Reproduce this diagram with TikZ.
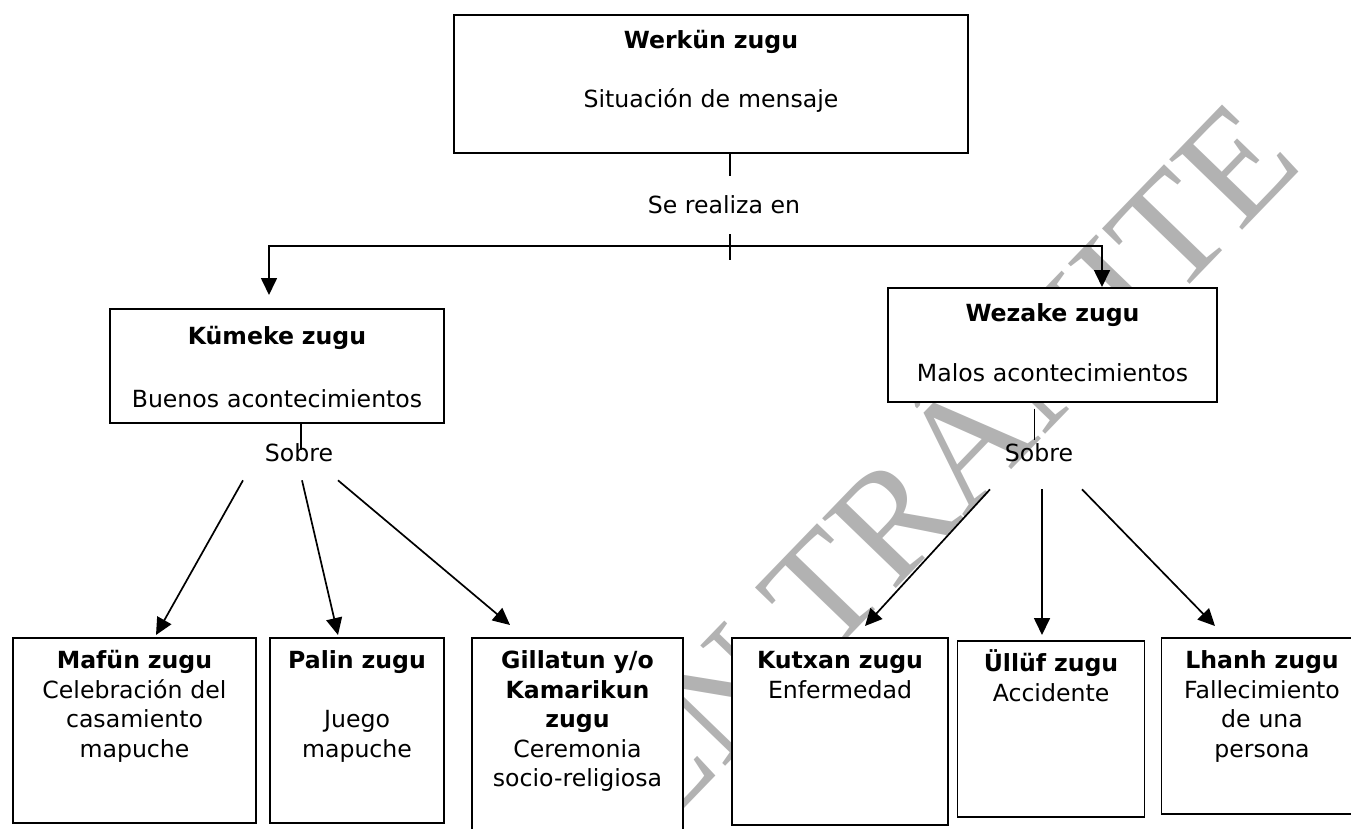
\documentclass[tikz,border=0pt]{standalone}
\usepackage{fontspec}
\setmainfont{DejaVu Sans}
\newfontfamily\marcafont{Liberation Serif}
\usetikzlibrary{arrows.meta}

\tikzset{
    caja/.style={draw, fill=white, line width=1.7pt, anchor=north,
                 align=center, inner sep=0pt},
    flecha/.style={line width=1.7pt, -{Triangle[length=17pt,width=16pt]}},
    linea/.style={line width=1.5pt},
    rotulo/.style={inner xsep=0pt, inner ysep=20pt},
}

\begin{document}
\begin{tikzpicture}[x=1pt, y=-1pt, font=\fontsize{23.6pt}{29.5pt}\selectfont]
    %
    % page frame
    \useasboundingbox (0,0) rectangle (1351,829);
    %
    % watermark
    \node[rotate=46, text=black!30,
          font=\marcafont\fontsize{155pt}{155pt}\selectfont] (marca) at (933,455) {EN TRÁMITE};
    %
    % upper boxes
    \node[caja, text width=514pt, text height=34pt, text depth=104pt] (werkun) at (711,14)
        {\textbf{Werkün zugu}\\[29.5pt]Situación de mensaje};
    \node[caja, text width=334pt, text height=36pt, text depth=78pt] (kumeke) at (277,308)
        {\textbf{Kümeke zugu}\\[33pt]Buenos acontecimientos};
    \node[caja, text width=329pt, text height=33.5pt, text depth=80.5pt] (wezake) at (1052.5,287)
        {\textbf{Wezake zugu}\\[31pt]Malos acontecimientos};
    %
    % lower boxes
    \node[caja, text width=243pt, text height=31pt, text depth=154pt] (mafun) at (134.5,637)
        {\textbf{Mafün zugu}\\Celebración del\\casamiento\\mapuche};
    \node[caja, text width=174pt, text height=31pt, text depth=154pt] (palin) at (357,637)
        {\textbf{Palin zugu}\\[29.5pt]Juego\\mapuche};
    \node[caja, text width=211pt, text height=31pt, text depth=220pt] (gillatun) at (577.5,637)
        {\textbf{Gillatun y/o}\\\textbf{Kamarikun}\\\textbf{zugu}\\Ceremonia\\socio-religiosa};
    \node[caja, text width=216pt, text height=31pt, text depth=156pt] (kutxan) at (840,637)
        {\textbf{Kutxan zugu}\\Enfermedad};
    \node[caja, text width=187pt, text height=31pt, text depth=145pt] (ulluf) at (1051,640)
        {\textbf{Üllüf zugu}\\Accidente};
    \node[caja, text width=201pt, text height=31pt, text depth=145pt] (lhanh) at (1262,637)
        {\textbf{Lhanh zugu}\\Fallecimiento\\de una\\persona};
    %
    % labels
    \node[rotulo] (realiza) at (724,205) {Se realiza en};
    \node[rotulo, inner ysep=18pt] (sobreA) at (299,453) {Sobre};
    \node[rotulo, inner ysep=18pt] (sobreB) at (1039,453) {Sobre};
    \coordinate (eje) at (730,246);
    %
    % top branch
    \draw[linea] (werkun.south -| eje) -- (realiza.north -| eje);
    \draw[linea] (realiza.south -| eje) -- ([yshift=-14pt]eje);
    \draw[flecha] (eje) -| ([xshift=-8pt,yshift=13pt]kumeke.north);
    \draw[flecha] (eje) -| ([xshift=49.5pt]wezake.north);
    %
    % boxes to labels
    \draw[linea] ([xshift=24pt]kumeke.south) -- ([xshift=2pt,yshift=3pt]sobreA.center);
    \draw[linea] ([xshift=-18pt,yshift=-6pt]wezake.south) -- ([xshift=-4.5pt,yshift=13pt]sobreB.center);
    %
    % labels to lower boxes
    \foreach \sx/\destino/\ex/\ey in {-56/mafun/21.5/2, 3/palin/-19/2, 39/gillatun/-67.5/12}
        \draw[flecha] ([xshift=\sx pt]sobreA.south) -- ([xshift=\ex pt,yshift=\ey pt]\destino.north);
    \foreach \sx/\destino/\ex/\ey in {-49/kutxan/25/11, 3/ulluf/-9/5, 43/lhanh/-47/11}
        \draw[flecha] ([xshift=\sx pt,yshift=-9pt]sobreB.south) -- ([xshift=\ex pt,yshift=\ey pt]\destino.north);
\end{tikzpicture}
\end{document}
